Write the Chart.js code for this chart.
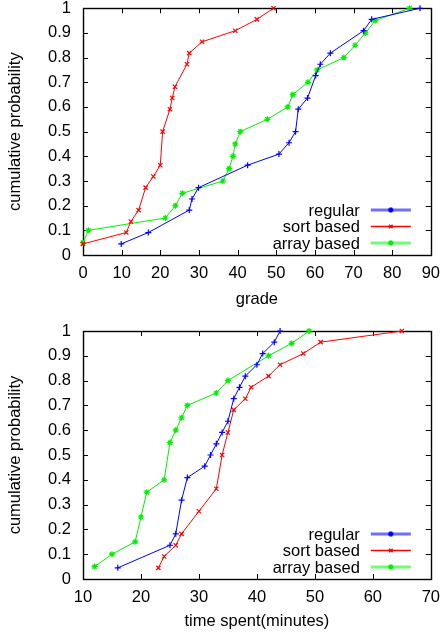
<!DOCTYPE html>
<html>
<head>
<meta charset="utf-8">
<script src="https://cdn.jsdelivr.net/npm/chart.js@4/dist/chart.umd.min.js"></script>
<style>
body { margin: 0; background: #fff; }
#wrap { position: relative; width: 442px; height: 633px; }
canvas { position: absolute; left: 0; }
</style>
</head>
<body>
<div id="wrap">
  <canvas id="gradeChart" width="442" height="316" style="top:0"></canvas>
  <canvas id="timeChart" width="442" height="317" style="top:316px"></canvas>
</div>
<script>
// top plot: grade
const regularGrade = [9.9, 16.9, 27.5, 28.2, 29.9, 42.6, 50.7, 53.3, 55.0, 55.7, 58.1, 60.2, 61.4, 64.0, 72.6, 74.7, 87.2];
const regularGradeProb = [0.045, 0.091, 0.182, 0.227, 0.273, 0.364, 0.409, 0.455, 0.5, 0.591, 0.636, 0.727, 0.773, 0.818, 0.909, 0.955, 1];
const sortGrade = [0, 11.2, 12.4, 14.4, 16.2, 18.2, 20.0, 20.6, 22.5, 23.1, 23.8, 26.9, 27.5, 30.8, 39.4, 45.0, 49.3];
const sortGradeProb = [0.045, 0.091, 0.136, 0.182, 0.273, 0.318, 0.364, 0.5, 0.591, 0.636, 0.682, 0.773, 0.818, 0.864, 0.909, 0.955, 1];
const arrayGrade = [0, 1.4, 21.3, 23.9, 25.7, 36.2, 37.8, 38.8, 39.4, 40.7, 47.7, 53.0, 54.3, 58.2, 60.6, 67.5, 70.4, 73.1, 75.6, 84.5];
const arrayGradeProb = [0.05, 0.1, 0.15, 0.2, 0.25, 0.3, 0.35, 0.4, 0.45, 0.5, 0.55, 0.6, 0.65, 0.7, 0.75, 0.8, 0.85, 0.9, 0.95, 1];

// bottom plot: time spent
const regularTime = [16, 25, 26, 27, 28, 31, 32, 33, 34, 35, 36, 37, 38, 40, 41, 43, 44];
const regularTimeProb = [0.045, 0.136, 0.182, 0.318, 0.409, 0.455, 0.5, 0.545, 0.591, 0.636, 0.727, 0.773, 0.818, 0.864, 0.909, 0.955, 1];
const sortTime = [23, 24, 26, 27, 30, 33, 34, 35, 36, 38, 39, 42, 44, 48, 51, 65];
const sortTimeProb = [0.045, 0.091, 0.136, 0.182, 0.273, 0.364, 0.5, 0.591, 0.682, 0.727, 0.773, 0.818, 0.864, 0.909, 0.955, 1];
const arrayTime = [12, 15, 19, 20, 21, 24, 25, 26, 27, 28, 33, 35, 42, 46, 49];
const arrayTimeProb = [0.05, 0.1, 0.15, 0.25, 0.35, 0.4, 0.55, 0.6, 0.65, 0.7, 0.75, 0.8, 0.9, 0.95, 1];

const gradeTicks = [0, 10, 20, 30, 40, 50, 60, 70, 80, 90];
const timeTicks = [10, 20, 30, 40, 50, 60, 70];
const probTicks = [0, 0.1, 0.2, 0.3, 0.4, 0.5, 0.6, 0.7, 0.8, 0.9, 1];

const seriesNames = ['regular', 'sort based', 'array based'];
const seriesColors = ['#0000ff', '#ff0000', '#00f000'];
const legendColors = ['#7070ff', '#ff0000', '#70ff70'];
const legendWidths = [3, 1.5, 3];
const seriesMarkers = ['cross', 'crossRot', 'star'];

const FAMILY = '"Liberation Sans", Arial, sans-serif';
const FONT = { family: FAMILY, size: 16.5, lineHeight: 1 };

const zip = (xs, ys) => xs.map((x, i) => ({ x: x, y: ys[i] }));

function makeSet(i, xs, ys) {
    return {
        label: seriesNames[i],
        data: zip(xs, ys),
        showLine: true,
        borderColor: seriesColors[i],
        backgroundColor: seriesColors[i],
        borderWidth: 1,
        pointStyle: seriesMarkers[i],
        pointRadius: 3,
        pointBorderWidth: 1.2,
        pointBorderColor: seriesColors[i],
        tension: 0,
        clip: false
    };
}

// border box + inward ticks on all four sides, like gnuplot
const frameTicks = {
    id: 'frameTicks',
    beforeDatasetsDraw(chart) {
        const { ctx, chartArea: a, scales: { x, y } } = chart;
        ctx.save();
        ctx.strokeStyle = '#000';
        ctx.lineWidth = 1;
        ctx.beginPath();
        x.ticks.forEach(t => {
            const px = Math.round(x.getPixelForValue(t.value)) + 0.5;
            ctx.moveTo(px, a.bottom); ctx.lineTo(px, a.bottom - 5);
            ctx.moveTo(px, a.top); ctx.lineTo(px, a.top + 5);
        });
        y.ticks.forEach(t => {
            const py = Math.round(y.getPixelForValue(t.value)) + 0.5;
            ctx.moveTo(a.left, py); ctx.lineTo(a.left + 5, py);
            ctx.moveTo(a.right, py); ctx.lineTo(a.right - 5, py);
        });
        ctx.stroke();
        ctx.lineWidth = 1.4;
        ctx.strokeRect(Math.round(a.left) + 0.5, Math.round(a.top) + 0.5, Math.round(a.right - a.left), Math.round(a.bottom - a.top));
        ctx.restore();
    }
};

// key in the lower right corner: text, then line sample with marker
const insideKey = {
    id: 'insideKey',
    afterDatasetsDraw(chart) {
        const { ctx, chartArea: a } = chart;
        const rows = [-45, -28.5, -12];
        ctx.save();
        ctx.font = `${FONT.size}px ${FAMILY}`;
        ctx.textAlign = 'right';
        ctx.textBaseline = 'middle';
        chart.data.datasets.forEach((ds, i) => {
            const yy = a.bottom + rows[i];
            ctx.fillStyle = '#000';
            ctx.fillText(ds.label, a.right - 71, yy + 1);
            ctx.strokeStyle = legendColors[i];
            ctx.lineWidth = legendWidths[i];
            ctx.beginPath();
            ctx.moveTo(a.right - 60, yy);
            ctx.lineTo(a.right - 20, yy);
            ctx.stroke();
            ctx.strokeStyle = ds.borderColor;
            ctx.fillStyle = ds.borderColor;
            Chart.helpers.drawPoint(ctx, { pointStyle: ds.pointStyle, radius: 2.5, borderWidth: 1.2 }, a.right - 40, yy);
        });
        ctx.restore();
    }
};

function makeChart(id, sets, xTicks, xTitle, xHeight, titlePad, topPad) {
    return new Chart(document.getElementById(id), {
        type: 'scatter',
        data: { datasets: sets },
        options: {
            responsive: false,
            animation: false,
            layout: { padding: { top: topPad, right: 11, left: 0, bottom: 0 } },
            plugins: { legend: { display: false }, tooltip: { enabled: false } },
            scales: {
                x: {
                    type: 'linear',
                    min: xTicks[0],
                    max: xTicks[xTicks.length - 1],
                    afterBuildTicks: s => { s.ticks = xTicks.map(v => ({ value: v })); },
                    afterFit: s => { s.height = xHeight; },
                    grid: { display: false },
                    border: { display: false },
                    ticks: { color: '#000', font: FONT, padding: 2, maxRotation: 0, autoSkip: false },
                    title: { display: true, text: xTitle, color: '#000', font: FONT, padding: { top: 0, bottom: titlePad } }
                },
                y: {
                    type: 'linear',
                    min: 0,
                    max: 1,
                    afterBuildTicks: s => { s.ticks = probTicks.map(v => ({ value: v })); },
                    afterFit: s => { s.width = 83; },
                    grid: { display: true, drawOnChartArea: false, drawTicks: true, tickLength: 12, tickColor: 'rgba(0,0,0,0)' },
                    border: { display: false },
                    ticks: { color: '#000', font: FONT, padding: 0, callback: v => String(v) },
                    title: { display: true, text: 'cumulative probability', color: '#000', font: FONT, padding: { top: 7, bottom: 0 } }
                }
            }
        },
        plugins: [frameTicks, insideKey]
    });
}

makeChart('gradeChart', [
    makeSet(0, regularGrade, regularGradeProb),
    makeSet(1, sortGrade, sortGradeProb),
    makeSet(2, arrayGrade, arrayGradeProb)
], gradeTicks, 'grade', 61, 8, 6);

makeChart('timeChart', [
    makeSet(0, regularTime, regularTimeProb),
    makeSet(1, sortTime, sortTimeProb),
    makeSet(2, arrayTime, arrayTimeProb)
], timeTicks, 'time spent(minutes)', 54, 3, 15);
</script>
</body>
</html>
